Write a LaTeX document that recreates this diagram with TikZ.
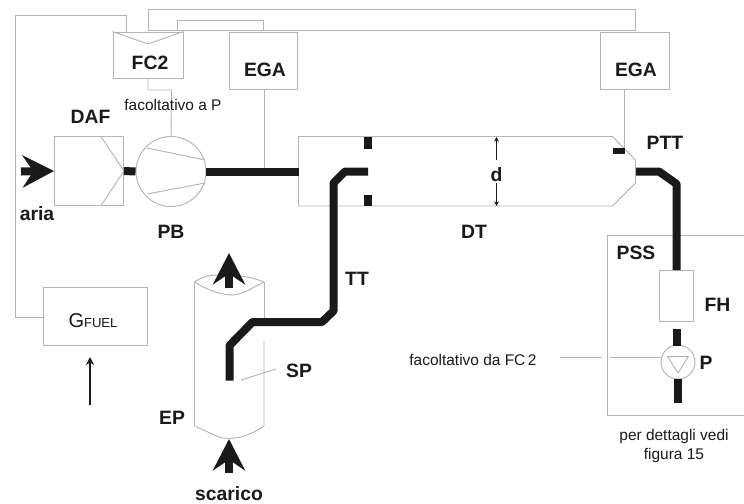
\documentclass[tikz,border=0pt]{standalone}
\usepackage{fontspec}
\setmainfont{Liberation Sans}
\usetikzlibrary{arrows.meta}
\tikzset{
  thinline/.style={draw=linegray,line width=0.7pt},
  pipe/.style={draw=pipeblack,line width=6pt,line join=bevel},
  thinpipe/.style={draw=pipeblack,line width=4pt},
  bigarrow/.style={draw=pipeblack,fill=pipeblack,line width=6pt,-{Stealth[length=23.5pt,width=24pt,inset=8pt]}},
  blockbox/.style={thinline,rectangle,inner sep=0pt},
  roundpart/.style={thinline,circle,inner sep=0pt},
  bigtext/.style={font=\fontsize{14.5}{16}\selectfont\bfseries,text=pipeblack,inner sep=0pt},
  smalltext/.style={font=\fontsize{11.6}{14}\selectfont,text=pipeblack,inner sep=0pt,align=center},
  thinarrow/.style={draw=pipeblack,line width=0.9pt,-{Stealth[length=6pt,width=6pt]}},
  dimarrow/.style={draw=pipeblack,line width=0.7pt,-{Stealth[length=3.5pt,width=3.5pt]}}
}
\definecolor{linegray}{HTML}{B4B4B4}
\definecolor{pipeblack}{HTML}{1A1A1A}
\begin{document}
\begin{tikzpicture}[x=0.75pt,y=-0.75pt]
\useasboundingbox (0,0) rectangle (744,504);
\fill[white] (0,0) rectangle (744,504);
% blocks
\node[blockbox,minimum width=52.5pt,minimum height=34.5pt] (fc) at (148,55) {};
\node[bigtext] at (150,63) {FC2};
\node[blockbox,minimum width=51pt,minimum height=42.75pt] (egaa) at (263.5,60.5) {};
\node[bigtext] at (265,70) {EGA};
\node[blockbox,minimum width=51.75pt,minimum height=42.75pt] (egab) at (635,60.5) {};
\node[bigtext] at (636,70) {EGA};
\node[blockbox,minimum width=51.75pt,minimum height=51.4pt] (daf) at (89,171) {};
\node[roundpart,minimum size=52.5pt] (pb) at (171,171.5) {};
\node[blockbox,minimum width=78pt,minimum height=43.5pt] (fuel) at (95.5,316) {};
\node[inner sep=0pt,text=pipeblack] at (93,321) {\fontsize{15}{16}\selectfont G\fontsize{9.8}{12}\selectfont FUEL};
\node[blockbox,minimum width=25pt,minimum height=38.25pt] (fh) at (676.3,295.5) {};
\node[roundpart,minimum size=25.5pt] (pp) at (678,362) {};
% FC2 notch, DAF cone, PB blades, P triangle
\draw[thinline] (fc.north west) -- (148,44) -- (fc.north east);
\draw[thinline] (101,136.5) -- (daf.east) -- (101,205.5);
\draw[thinline] (147,148) -- (205,160) (147,194) -- (205,183);
\draw[thinline] (667.7,356.7) -- (688.3,356.7) -- (678,373) -- cycle;
% dilution tunnel
\draw[thinline] (298.5,136.5) -- (612.5,136.5) -- (635.5,160) -- (635.5,183) -- (612.5,206) -- (298.5,206) -- cycle;
% PSS frame
\draw[thinline] (744,235.5) -- (607.5,235.5) -- (607.5,415) -- (744,415);
% exhaust pipe body
\draw[thinline] (194.5,282) -- (194.5,426) -- (220,437.5) .. controls (230,439.5) and (245,439) .. (264,426) -- (264,341);
\draw[thinline] (264,322) -- (264,282);
\draw[thinline] (194.5,282) .. controls (205,274) and (216,275) .. (229,275) .. controls (240,275) and (255,278) .. (264,282);
\draw[thinline] (194.5,282) .. controls (207,290) and (222,295) .. (232,295) .. controls (242,295) and (252,288) .. (264,282);
% control and sample lines
\coordinate (c1) at (126,15);
\coordinate (c2) at (15.5,15);
\coordinate (c3) at (15.5,317);
\draw[thinline] (126,32) -- (c1) -- (c2) -- (c3) -- (fuel.west |- c3);
\coordinate (t1) at (148,9.5);
\coordinate (t2) at (635,9.5);
\coordinate (t3) at (635,30.5);
\coordinate (t4) at (148,30.5);
\draw[thinline] (t4) -- (t1) -- (t2) -- (t3) -- cycle;
\coordinate (u1) at (177.5,30.5);
\coordinate (u2) at (177.5,20.5);
\coordinate (u3) at (263.5,20.5);
\coordinate (u4) at (263.5,30.5);
\draw[thinline] (u1) -- (u2) -- (u3) -- (u4);
\coordinate (v1) at (148,90);
\coordinate (v2) at (171.5,90);
\draw[thinline] (fc.south) -- (v1) -- (v2) -- (pb.north);
\coordinate (w1) at (264.5,168);
\draw[thinline] (264.5,89) -- (w1);
\coordinate (w2) at (624,150);
\draw[thinline] (624,89) -- (w2);
\coordinate (x1) at (560,357);
\coordinate (x2) at (601.5,357);
\coordinate (x3) at (610,357);
\draw[thinline] (x1) -- (x2);
\draw[thinline] (x3) -- (pp.west |- x3);
\draw[thinline] (241,380) -- (276,369);
% thick pipes
\draw[pipe] (daf.east) -- (pb.west);
\draw[pipe] (pb.east) -- (299,171.5);
\draw[pipe] (368,171.5) -- (345,171.5) -- (333.5,183) -- (333.5,311) -- (322,322) -- (252.5,322) -- (229.5,345.5) -- (229.5,380.5);
\draw[pipe] (636,171.5) -- (659,171.5) -- (676.7,184) -- (676.7,270);
\draw[pipe] (676.7,328.5) -- (676.7,346);
\draw[pipe] (678,379) -- (678,403);
\draw[pipe] (368,137) -- (368,148.5);
\draw[pipe] (368,195) -- (368,206);
\draw[thinpipe] (613,151) -- (625,151);
% big arrows
\draw[bigarrow] (21,171.5) -- (daf.west);
\draw[bigarrow] (229,288) -- (229,253);
\draw[bigarrow] (229,473) -- (229,439);
\draw[thinarrow] (90,405) -- (90,357);
\draw[dimarrow] (496.5,160) -- (496.5,137);
\draw[dimarrow] (496.5,183) -- (496.5,206);
% labels
\node[bigtext] at (90.5,116.5) {DAF};
\node[bigtext] at (37,213.5) {aria};
\node[bigtext] at (171,232) {PB};
\node[bigtext] at (474,232) {DT};
\node[bigtext] at (496.5,174.5) {d};
\node[bigtext] at (665,143) {PTT};
\node[bigtext] at (636,253) {PSS};
\node[bigtext] at (717.5,305) {FH};
\node[bigtext] at (706,363) {P};
\node[bigtext] at (357,279) {TT};
\node[bigtext] at (299,371) {SP};
\node[bigtext] at (172,418) {EP};
\node[bigtext] at (229,493.5) {scarico};
\node[smalltext] at (173,105) {facoltativo a P};
\node[smalltext] at (473,360) {facoltativo da FC\,2};
\node[smalltext] at (674,446) {per dettagli vedi\\figura 15};
\end{tikzpicture}
\end{document}
